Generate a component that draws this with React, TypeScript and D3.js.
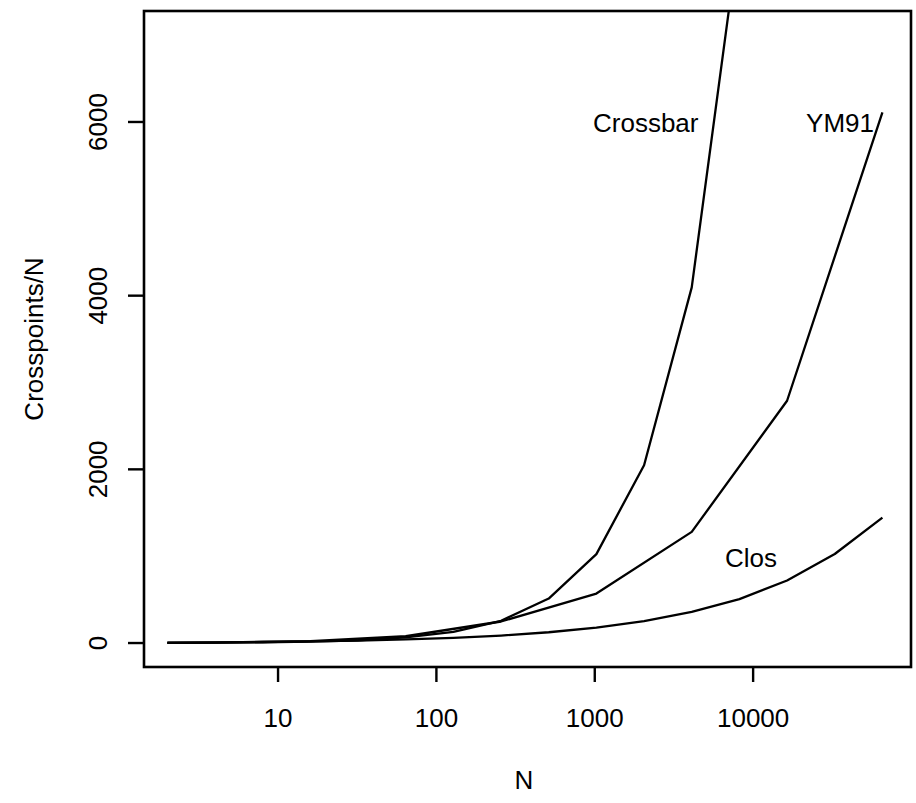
import { useMemo } from "react";
import { line, scaleLinear, scaleLog } from "d3";

const WIDTH = 916;
const HEIGHT = 803;
const LEFT = 144;
const RIGHT = 911;
const TOP = 11;
const BOTTOM = 667;
const FONT = "'Liberation Sans', Arial, Helvetica, sans-serif";
const FS = 26;

// switch size N (powers of two)
const sizes = [2, 4, 8, 16, 32, 64, 128, 256, 512, 1024, 2048, 4096, 8192, 16384, 32768, 65536];

const crossbarN = [2, 4, 8, 16, 32, 64, 128, 256, 512, 1024, 2048, 4096, 8192];
const crossbarVals = [2, 4, 8, 16, 32, 64, 128, 256, 512, 1024, 2048, 4096, 8192];

const ym91N = [2, 4, 16, 64, 256, 1024, 4096, 16384, 65536];
const ym91Vals = [2, 5, 22, 78, 248, 570, 1280, 2790, 6110];

const closVals = [4, 8, 12, 19, 28, 41, 60, 86, 124, 177, 252, 358, 505, 720, 1025, 1444];

const xTicks = [10, 100, 1000, 10000];
const yTicks = [0, 2000, 4000, 6000];

// label anchors in data units (left edge of text, baseline)
const labels = [
  { text: "Crossbar", n: 975, y: 5885 },
  { text: "YM91", n: 21600, y: 5885 },
  { text: "Clos", n: 6650, y: 875 },
];

export default function App() {
  const x = useMemo(() => scaleLog().domain([1.424, 99300]).range([LEFT, RIGHT]), []);
  const y = useMemo(() => scaleLinear().domain([-276, 7278]).range([BOTTOM, TOP]), []);

  const path = (ns: number[], vs: number[]) =>
    line<number>()
      .x((_, i) => x(ns[i]))
      .y((v) => y(v))(vs) ?? "";

  const series = [
    path(crossbarN, crossbarVals),
    path(ym91N, ym91Vals),
    path(sizes, closVals),
  ];

  return (
    <svg
      width={WIDTH}
      height={HEIGHT}
      viewBox={`0 0 ${WIDTH} ${HEIGHT}`}
      style={{ position: "absolute", left: 0, top: 0, background: "#fff" }}
      fontFamily={FONT}
    >
      <defs>
        <clipPath id="plot-area">
          <rect x={LEFT} y={TOP} width={RIGHT - LEFT} height={BOTTOM - TOP} />
        </clipPath>
      </defs>

      <g clipPath="url(#plot-area)">
        {series.map((d, i) => (
          <path key={i} d={d} fill="none" stroke="#000" strokeWidth={2.3} strokeLinejoin="round" />
        ))}
      </g>

      <rect x={LEFT} y={TOP} width={RIGHT - LEFT} height={BOTTOM - TOP} fill="none" stroke="#000" strokeWidth={2.6} />

      {xTicks.map((t) => (
        <g key={t} transform={`translate(${x(t)},0)`}>
          <line y1={BOTTOM} y2={BOTTOM + 15} stroke="#000" strokeWidth={2.4} />
          <text y={727} textAnchor="middle" fontSize={FS}>
            {t}
          </text>
        </g>
      ))}

      {yTicks.map((t) => (
        <g key={t} transform={`translate(0,${y(t)})`}>
          <line x1={LEFT} x2={LEFT - 16} stroke="#000" strokeWidth={2.4} />
          <text transform="translate(107,0) rotate(-90)" textAnchor="middle" fontSize={FS}>
            {t}
          </text>
        </g>
      ))}

      {labels.map((l) => (
        <text key={l.text} x={x(l.n)} y={y(l.y)} fontSize={FS}>
          {l.text}
        </text>
      ))}

      <text x={524} y={789} textAnchor="middle" fontSize={FS}>
        N
      </text>
      <text transform={`translate(43,${(TOP + BOTTOM) / 2}) rotate(-90)`} textAnchor="middle" fontSize={FS}>
        Crosspoints/N
      </text>
    </svg>
  );
}
